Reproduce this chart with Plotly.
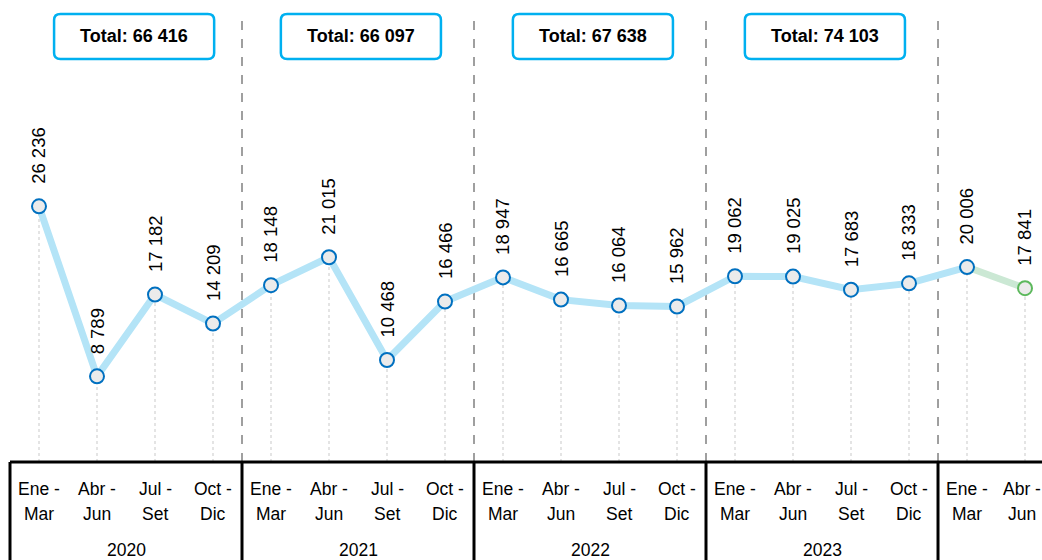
import plotly.graph_objects as go

quarters = ["Ene -<br>Mar", "Abr -<br>Jun", "Jul -<br>Set", "Oct -<br>Dic"]
years = ["2020", "2021", "2022", "2023", "2024"]
periods = [(y, q) for y in years for q in quarters][:18]
values = [26236, 8789, 17182, 14209,
          18148, 21015, 10468, 16466,
          18947, 16665, 16064, 15962,
          19062, 19025, 17683, 18333,
          20006, 17841]
n_main = 17  # points in the blue series (last point is the green one)

FONT = "Liberation Sans Narrow, Arial Narrow, Liberation Sans, Arial, sans-serif"
BLUE_LINE = "#B4E4F7"
BLUE_MARK = "#0070C0"
GREEN_LINE = "#CBE8D4"
GREEN_MARK = "#5CB85C"
BOX = "#00B0F0"

def fmt(v):
    return f"{v:,}".replace(",", " ")

idx = list(range(len(values)))
fig = go.Figure()

shapes = []
for i, v in zip(idx, values):
    shapes.append(dict(type="line", xref="x", yref="y", x0=i, x1=i, y0=0, y1=v,
                       line=dict(color="#E4E4E4", width=2, dash="dot"), layer="below"))

fig.add_trace(go.Scatter(x=idx[n_main - 1:], y=values[n_main - 1:], mode="lines",
                         line=dict(color=GREEN_LINE, width=7), hoverinfo="skip"))
fig.add_trace(go.Scatter(x=idx[:n_main], y=values[:n_main], mode="lines",
                         line=dict(color=BLUE_LINE, width=7), hoverinfo="skip"))
fig.add_trace(go.Scatter(x=idx[:n_main], y=values[:n_main], mode="markers",
                         marker=dict(size=14, color="#EBEBEB", line=dict(color=BLUE_MARK, width=2))))
fig.add_trace(go.Scatter(x=idx[n_main:], y=values[n_main:], mode="markers",
                         marker=dict(size=14, color="#EBEBEB", line=dict(color=GREEN_MARK, width=2))))

annotations = []
for i, v in zip(idx, values):
    annotations.append(dict(x=i, y=v, xref="x", yref="y", text=fmt(v), textangle=-90,
                            showarrow=False, yanchor="bottom", yshift=20,
                            font=dict(family=FONT, size=18.5, color="#000")))
for i, (yr, q) in enumerate(periods):
    for k, part in enumerate(q.split("<br>")):
        annotations.append(dict(x=i, y=0, xref="x", yref="paper", text=part, showarrow=False,
                                yanchor="middle", yshift=-27 - 25 * k,
                                xshift=-3 if i == len(periods) - 1 else 0,
                                font=dict(family=FONT, size=17.5, color="#000")))

PH = 462.0  # plot height in px
for g, yr in enumerate(years):
    members = [i for i, p in enumerate(periods) if p[0] == yr]
    cx = (members[0] + members[-1]) / 2 if len(members) == 4 else members[0] + 1.5
    annotations.append(dict(x=cx, y=0, xref="x", yref="paper", text=yr, showarrow=False,
                            yanchor="middle", yshift=-88,
                            font=dict(family=FONT, size=17.5, color="#000")))
    xb = members[0] - 0.5
    shapes.append(dict(type="line", xref="x", yref="paper", x0=xb, x1=xb, y0=0, y1=-0.23,
                       line=dict(color="#000", width=3)))
    if g > 0:
        shapes.append(dict(type="line", xref="x", yref="paper", x0=xb, x1=xb, y0=0,
                           y1=1 - 20 / PH,
                           line=dict(color="#808080", width=1.5, dash="dash"), layer="below"))
    if len(members) == 4:
        total = sum(values[i] for i in members)
        bx = cx + (0.14 if g == 0 else 0.05)
        hw = 1.38
        y0, y1 = 1 - 59 / PH, 1 - 14 / PH
        rx, ry = 0.11, 6 / PH
        x0, x1 = bx - hw, bx + hw
        path = (f"M {x0+rx},{y0} L {x1-rx},{y0} Q {x1},{y0} {x1},{y0+ry} "
                f"L {x1},{y1-ry} Q {x1},{y1} {x1-rx},{y1} L {x0+rx},{y1} "
                f"Q {x0},{y1} {x0},{y1-ry} L {x0},{y0+ry} Q {x0},{y0} {x0+rx},{y0} Z")
        shapes.append(dict(type="path", xref="x", yref="paper", path=path,
                           line=dict(color=BOX, width=2.5), fillcolor="white"))
        annotations.append(dict(x=bx, y=(y0 + y1) / 2, xref="x", yref="paper",
                                yanchor="middle", xanchor="center",
                                text=f"<b>Total: {fmt(total)}</b>", showarrow=False,
                                font=dict(family=FONT, size=18, color="#000")))

shapes.append(dict(type="line", xref="x", yref="paper", x0=-0.5, x1=17.4,
                   y0=0, y1=0, line=dict(color="#000", width=3)))

fig.update_layout(
    width=1042, height=560,
    margin=dict(l=0, r=0, t=0, b=98),
    paper_bgcolor="white", plot_bgcolor="white",
    showlegend=False,
    xaxis=dict(range=[-0.6724, 17.293], showgrid=False, zeroline=False,
               showticklabels=False, ticks=""),
    yaxis=dict(range=[0, 47414], showgrid=False, zeroline=False,
               showticklabels=False, ticks=""),
    shapes=shapes, annotations=annotations,
)
fig.write_html("out.html", config={"displayModeBar": False},
               post_script="document.body.style.margin='0';"
                           "document.documentElement.style.overflow='hidden';"
                           "document.body.style.overflow='hidden';")
